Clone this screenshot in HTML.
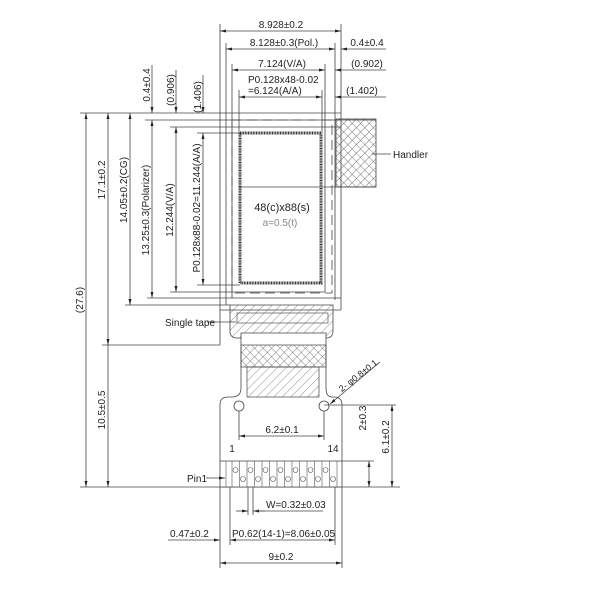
<!DOCTYPE html>
<html><head><meta charset="utf-8"><style>
html,body{margin:0;padding:0;background:#fff;}
svg{display:block;}
text{font-family:"Liberation Sans",sans-serif;fill:#222;}
</style></head><body>
<svg width="600" height="600" viewBox="0 0 600 600" xmlns="http://www.w3.org/2000/svg">
<defs>
<pattern id="diag" width="6" height="6" patternUnits="userSpaceOnUse" patternTransform="rotate(45)">
<line x1="0" y1="0" x2="0" y2="6" stroke="#555" stroke-width="0.7"/></pattern>
<pattern id="cross" width="6" height="6" patternUnits="userSpaceOnUse" patternTransform="rotate(45)">
<line x1="0" y1="0" x2="0" y2="6" stroke="#444" stroke-width="0.7"/><line x1="0" y1="0" x2="6" y2="0" stroke="#444" stroke-width="0.7"/></pattern>
<marker id="a" markerWidth="6" markerHeight="6" refX="6" refY="3" orient="auto-start-reverse" markerUnits="userSpaceOnUse"><path d="M0,1.5 L6,3 L0,4.5z" fill="#222"/></marker>
</defs>
<g stroke="#444" stroke-width="0.8" fill="none">
<!-- top extension lines -->
<line x1="220" y1="24" x2="220" y2="345"/>
<line x1="341" y1="24" x2="341" y2="310"/>
<line x1="226" y1="43" x2="226" y2="305"/>
<line x1="335" y1="43" x2="335" y2="300"/>
<line x1="232" y1="64" x2="232" y2="298"/>
<line x1="325" y1="64" x2="325" y2="292"/>
<line x1="239" y1="90" x2="239" y2="133"/>
<line x1="322" y1="90" x2="322" y2="133"/>
<!-- horizontal extension lines left -->
<line x1="80" y1="113" x2="341" y2="113"/>
<line x1="145" y1="120" x2="376" y2="120"/>
<line x1="170" y1="127" x2="341" y2="127"/>
<line x1="197" y1="133" x2="240" y2="133"/>
<line x1="125" y1="305" x2="230" y2="305"/>
<line x1="147" y1="298" x2="341" y2="298"/>
<line x1="170" y1="292" x2="325" y2="292"/>
<line x1="197" y1="285" x2="240" y2="285"/>
<line x1="102" y1="345" x2="220" y2="345"/>
<line x1="80" y1="487" x2="400" y2="487"/>
<line x1="220" y1="310" x2="341" y2="310"/>
<!-- dashed rect -->
<rect x="232" y="120" width="100" height="173" stroke-dasharray="10,5"/>
<line x1="239" y1="187" x2="376" y2="187"/>
</g>
<!-- active area -->
<rect x="240" y="133" width="81" height="150" fill="none" stroke="#333" stroke-width="3" stroke-dasharray="1,0.6"/>
<!-- handler -->
<rect x="336" y="119" width="40" height="68" fill="url(#cross)" stroke="#444" stroke-width="0.8"/>
<line x1="372" y1="154" x2="391" y2="154" stroke="#444" stroke-width="0.8"/>
<text x="393" y="158" font-size="10">Handler</text>
<text x="282" y="211" font-size="11" text-anchor="middle">48(c)x88(s)</text>
<text x="280" y="226" font-size="10" text-anchor="middle" fill="#888" style="fill:#888">a=0.5(t)</text>
<!-- tape -->
<path d="M230,305 H333 V331 Q333,338 326,338 H237 Q230,338 230,331 Z" fill="url(#diag)" stroke="#444" stroke-width="0.8"/>
<rect x="237" y="313" width="91" height="10" fill="none" stroke="#555" stroke-width="0.7"/>
<line x1="207" y1="322" x2="236" y2="322" stroke="#444" stroke-width="0.8"/>
<text x="165" y="326" font-size="10">Single tape</text>
<!-- FPC -->
<path d="M241,333 V388 Q241,397 232,397 H228 Q220,397 220,405 V487 H342 V405 Q342,397 334,397 H332 Q326,397 326,388 V333 Z" fill="#fff" stroke="#444" stroke-width="0.8"/>
<rect x="241" y="345" width="85" height="22" fill="url(#cross)" stroke="#444" stroke-width="0.7"/>
<rect x="247" y="367" width="72" height="30" fill="url(#diag)" stroke="#444" stroke-width="0.7"/>
<circle cx="239" cy="406" r="5" fill="none" stroke="#444" stroke-width="0.8"/>
<circle cx="324" cy="406" r="5" fill="none" stroke="#444" stroke-width="0.8"/>
<g stroke="#444" stroke-width="0.8">
<line x1="239" y1="411" x2="239" y2="440"/><line x1="324" y1="411" x2="324" y2="440"/>
<line x1="239" y1="436" x2="324" y2="436" marker-start="url(#a)" marker-end="url(#a)"/>
<line x1="220" y1="461" x2="342" y2="461"/>
<line x1="330" y1="404" x2="380" y2="362" marker-start="url(#a)"/>
<line x1="324" y1="405" x2="396" y2="405"/>
<line x1="342" y1="461" x2="374" y2="461"/>
<line x1="369" y1="461" x2="369" y2="487" marker-start="url(#a)" marker-end="url(#a)"/>
<line x1="392" y1="405" x2="392" y2="487" marker-start="url(#a)" marker-end="url(#a)"/>
</g>
<text x="282" y="433" font-size="10" text-anchor="middle">6.2±0.1</text>
<text x="232" y="452" font-size="10" text-anchor="middle">1</text>
<text x="333" y="452" font-size="10" text-anchor="middle">14</text>
<text transform="translate(366,418) rotate(-90)" font-size="10" text-anchor="middle">2±0.3</text>
<text transform="translate(389,437) rotate(-90)" font-size="10" text-anchor="middle">6.1±0.2</text>
<text transform="translate(360,378) rotate(-38)" font-size="9" text-anchor="middle">2- φ0.8±0.1</text>
<!-- pins -->
<g stroke="#555" stroke-width="0.6" fill="none">
<line x1="226" y1="461" x2="226" y2="487"/><line x1="337" y1="461" x2="337" y2="487"/>
<line x1="232" y1="461" x2="232" y2="487"/><line x1="239.5" y1="461" x2="239.5" y2="487"/><line x1="247" y1="461" x2="247" y2="487"/><line x1="254.5" y1="461" x2="254.5" y2="487"/><line x1="262" y1="461" x2="262" y2="487"/><line x1="269.5" y1="461" x2="269.5" y2="487"/><line x1="277" y1="461" x2="277" y2="487"/><line x1="284.5" y1="461" x2="284.5" y2="487"/><line x1="292" y1="461" x2="292" y2="487"/><line x1="299.5" y1="461" x2="299.5" y2="487"/><line x1="307" y1="461" x2="307" y2="487"/><line x1="314.5" y1="461" x2="314.5" y2="487"/><line x1="322" y1="461" x2="322" y2="487"/><line x1="329.5" y1="461" x2="329.5" y2="487"/>
<circle cx="235.5" cy="470" r="2.5"/><circle cx="243" cy="479" r="2.5"/><circle cx="250.5" cy="470" r="2.5"/><circle cx="258" cy="479" r="2.5"/><circle cx="265.5" cy="470" r="2.5"/><circle cx="273" cy="479" r="2.5"/><circle cx="280.5" cy="470" r="2.5"/><circle cx="288" cy="479" r="2.5"/><circle cx="295.5" cy="470" r="2.5"/><circle cx="303" cy="479" r="2.5"/><circle cx="310.5" cy="470" r="2.5"/><circle cx="318" cy="479" r="2.5"/><circle cx="325.5" cy="470" r="2.5"/><circle cx="333" cy="479" r="2.5"/>
</g>
<line x1="206" y1="478" x2="225" y2="478" stroke="#444" stroke-width="0.8" marker-end="url(#a)"/>
<text x="187" y="482" font-size="10">Pin1</text>
<!-- bottom dims -->
<g stroke="#444" stroke-width="0.8">
<line x1="220" y1="487" x2="220" y2="568"/><line x1="342" y1="487" x2="342" y2="568"/>
<line x1="230" y1="487" x2="230" y2="545"/><line x1="335" y1="487" x2="335" y2="545"/>
<line x1="248" y1="487" x2="248" y2="515"/><line x1="253" y1="487" x2="253" y2="515"/>
<line x1="236" y1="511" x2="248" y2="511" marker-end="url(#a)"/><line x1="265" y1="511" x2="253" y2="511" marker-end="url(#a)"/>
<line x1="253" y1="511" x2="323" y2="511"/>
<line x1="230" y1="540" x2="335" y2="540" marker-start="url(#a)" marker-end="url(#a)"/>
<line x1="168" y1="540" x2="220" y2="540" marker-end="url(#a)"/>
<line x1="220" y1="563" x2="342" y2="563" marker-start="url(#a)" marker-end="url(#a)"/>
</g>
<text x="266" y="508" font-size="10">W=0.32±0.03</text>
<text x="232" y="537" font-size="10">P0.62(14-1)=8.06±0.05</text>
<text x="170" y="537" font-size="10">0.47±0.2</text>
<text x="281" y="560" font-size="10" text-anchor="middle">9±0.2</text>
<!-- top dims -->
<g stroke="#444" stroke-width="0.8">
<line x1="220" y1="31" x2="341" y2="31" marker-start="url(#a)" marker-end="url(#a)"/>
<line x1="226" y1="49" x2="335" y2="49" marker-start="url(#a)" marker-end="url(#a)"/>
<line x1="341" y1="49" x2="386" y2="49" marker-start="url(#a)"/>
<line x1="232" y1="70" x2="325" y2="70" marker-start="url(#a)" marker-end="url(#a)"/>
<line x1="335" y1="70" x2="386" y2="70" marker-start="url(#a)"/>
<line x1="239" y1="97" x2="322" y2="97" marker-start="url(#a)" marker-end="url(#a)"/>
<line x1="335" y1="97" x2="386" y2="97" marker-start="url(#a)"/>
</g>
<text x="281" y="28" font-size="10" text-anchor="middle">8.928±0.2</text>
<text x="284" y="46" font-size="10" text-anchor="middle">8.128±0.3(Pol.)</text>
<text x="367" y="46" font-size="10" text-anchor="middle">0.4±0.4</text>
<text x="282" y="67" font-size="10" text-anchor="middle">7.124(V/A)</text>
<text x="367" y="67" font-size="10" text-anchor="middle">(0.902)</text>
<text x="248" y="83" font-size="10">P0.128x48-0.02</text>
<text x="248" y="94" font-size="10">=6.124(A/A)</text>
<text x="362" y="94" font-size="10" text-anchor="middle">(1.402)</text>
<!-- left dims -->
<g stroke="#444" stroke-width="0.8">
<line x1="86" y1="113" x2="86" y2="487" marker-start="url(#a)" marker-end="url(#a)"/>
<line x1="108" y1="113" x2="108" y2="345" marker-start="url(#a)" marker-end="url(#a)"/>
<line x1="108" y1="345" x2="108" y2="487" marker-end="url(#a)"/>
<line x1="130" y1="113" x2="130" y2="305" marker-start="url(#a)" marker-end="url(#a)"/>
<line x1="152" y1="120" x2="152" y2="298" marker-start="url(#a)" marker-end="url(#a)"/>
<line x1="152" y1="65" x2="152" y2="113" marker-end="url(#a)"/>
<line x1="176" y1="127" x2="176" y2="292" marker-start="url(#a)" marker-end="url(#a)"/>
<line x1="176" y1="70" x2="176" y2="113" marker-end="url(#a)"/>
<line x1="203" y1="133" x2="203" y2="285" marker-start="url(#a)" marker-end="url(#a)"/>
<line x1="203" y1="75" x2="203" y2="113" marker-end="url(#a)"/>
</g>
<text transform="translate(83,300) rotate(-90)" font-size="10" text-anchor="middle">(27.6)</text>
<text transform="translate(105,180) rotate(-90)" font-size="10" text-anchor="middle">17.1±0.2</text>
<text transform="translate(105,410) rotate(-90)" font-size="10" text-anchor="middle">10.5±0.5</text>
<text transform="translate(127,190) rotate(-90)" font-size="10" text-anchor="middle">14.05±0.2(CG)</text>
<text transform="translate(149,210) rotate(-90)" font-size="10" text-anchor="middle">13.25±0.3(Polarizer)</text>
<text transform="translate(173,210) rotate(-90)" font-size="10" text-anchor="middle">12.244(V/A)</text>
<text transform="translate(200,208) rotate(-90)" font-size="10" text-anchor="middle">P0.128x88-0.02=11.244(A/A)</text>
<text transform="translate(150,85) rotate(-90)" font-size="10" text-anchor="middle">0.4±0.4</text>
<text transform="translate(174,90) rotate(-90)" font-size="10" text-anchor="middle">(0.906)</text>
<text transform="translate(201,97) rotate(-90)" font-size="10" text-anchor="middle">(1.406)</text>
</svg>
</body></html>
